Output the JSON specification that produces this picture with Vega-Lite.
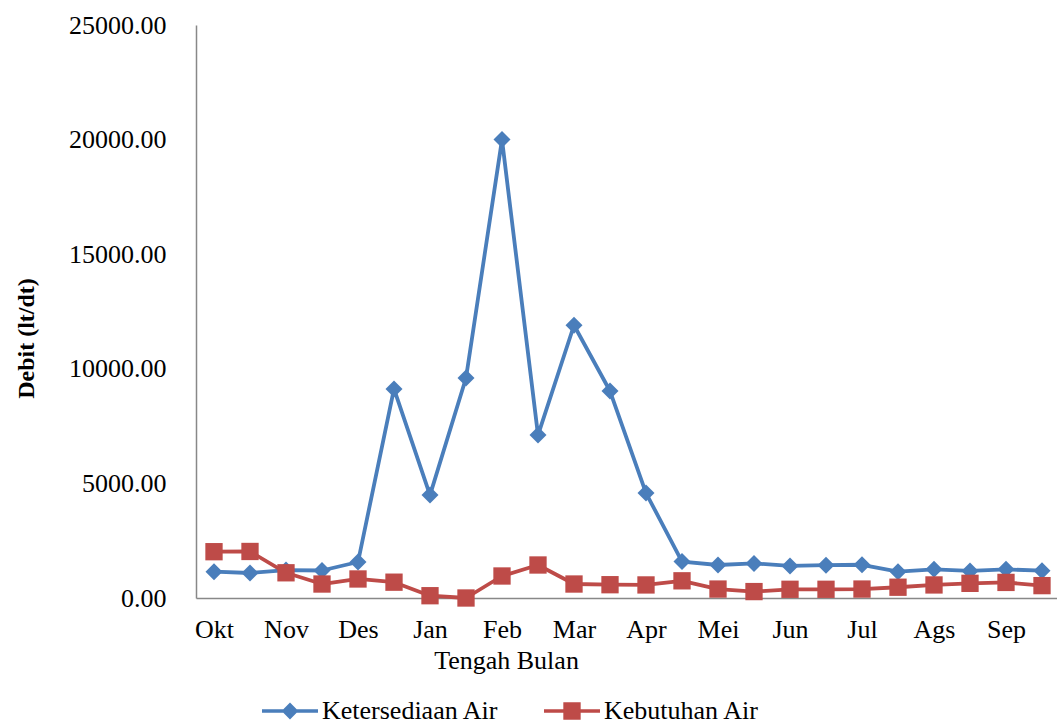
{
  "$schema": "https://vega.github.io/schema/vega-lite/v6.json",
  "autosize": "none",
  "width": 864,
  "height": 573,
  "padding": {"left": 196, "top": 25, "right": 0, "bottom": 126},
  "background": "white",
  "config": {
    "font": "Liberation Serif",
    "view": {"stroke": null}
  },
  "data": {
    "values": [
      {"periode": "Okt I", "seri": "Ketersediaan Air", "debit": 1150},
      {"periode": "Okt II", "seri": "Ketersediaan Air", "debit": 1090},
      {"periode": "Nov I", "seri": "Ketersediaan Air", "debit": 1220},
      {"periode": "Nov II", "seri": "Ketersediaan Air", "debit": 1200},
      {"periode": "Des I", "seri": "Ketersediaan Air", "debit": 1570},
      {"periode": "Des II", "seri": "Ketersediaan Air", "debit": 9120},
      {"periode": "Jan I", "seri": "Ketersediaan Air", "debit": 4490},
      {"periode": "Jan II", "seri": "Ketersediaan Air", "debit": 9600},
      {"periode": "Feb I", "seri": "Ketersediaan Air", "debit": 20000},
      {"periode": "Feb II", "seri": "Ketersediaan Air", "debit": 7110},
      {"periode": "Mar I", "seri": "Ketersediaan Air", "debit": 11900},
      {"periode": "Mar II", "seri": "Ketersediaan Air", "debit": 9030},
      {"periode": "Apr I", "seri": "Ketersediaan Air", "debit": 4580},
      {"periode": "Apr II", "seri": "Ketersediaan Air", "debit": 1590},
      {"periode": "Mei I", "seri": "Ketersediaan Air", "debit": 1440},
      {"periode": "Mei II", "seri": "Ketersediaan Air", "debit": 1510},
      {"periode": "Jun I", "seri": "Ketersediaan Air", "debit": 1400},
      {"periode": "Jun II", "seri": "Ketersediaan Air", "debit": 1430},
      {"periode": "Jul I", "seri": "Ketersediaan Air", "debit": 1450},
      {"periode": "Jul II", "seri": "Ketersediaan Air", "debit": 1150},
      {"periode": "Ags I", "seri": "Ketersediaan Air", "debit": 1250},
      {"periode": "Ags II", "seri": "Ketersediaan Air", "debit": 1180},
      {"periode": "Sep I", "seri": "Ketersediaan Air", "debit": 1250},
      {"periode": "Sep II", "seri": "Ketersediaan Air", "debit": 1190},
      {"periode": "Okt I", "seri": "Kebutuhan Air", "debit": 2020},
      {"periode": "Okt II", "seri": "Kebutuhan Air", "debit": 2030},
      {"periode": "Nov I", "seri": "Kebutuhan Air", "debit": 1100},
      {"periode": "Nov II", "seri": "Kebutuhan Air", "debit": 610},
      {"periode": "Des I", "seri": "Kebutuhan Air", "debit": 830},
      {"periode": "Des II", "seri": "Kebutuhan Air", "debit": 690},
      {"periode": "Jan I", "seri": "Kebutuhan Air", "debit": 100},
      {"periode": "Jan II", "seri": "Kebutuhan Air", "debit": 0},
      {"periode": "Feb I", "seri": "Kebutuhan Air", "debit": 960},
      {"periode": "Feb II", "seri": "Kebutuhan Air", "debit": 1440},
      {"periode": "Mar I", "seri": "Kebutuhan Air", "debit": 610},
      {"periode": "Mar II", "seri": "Kebutuhan Air", "debit": 580},
      {"periode": "Apr I", "seri": "Kebutuhan Air", "debit": 570},
      {"periode": "Apr II", "seri": "Kebutuhan Air", "debit": 750},
      {"periode": "Mei I", "seri": "Kebutuhan Air", "debit": 390},
      {"periode": "Mei II", "seri": "Kebutuhan Air", "debit": 280},
      {"periode": "Jun I", "seri": "Kebutuhan Air", "debit": 380},
      {"periode": "Jun II", "seri": "Kebutuhan Air", "debit": 380},
      {"periode": "Jul I", "seri": "Kebutuhan Air", "debit": 390},
      {"periode": "Jul II", "seri": "Kebutuhan Air", "debit": 470},
      {"periode": "Ags I", "seri": "Kebutuhan Air", "debit": 570},
      {"periode": "Ags II", "seri": "Kebutuhan Air", "debit": 640},
      {"periode": "Sep I", "seri": "Kebutuhan Air", "debit": 680},
      {"periode": "Sep II", "seri": "Kebutuhan Air", "debit": 540}
    ]
  },
  "encoding": {
    "x": {
      "field": "periode",
      "type": "ordinal",
      "sort": null,
      "scale": {"type": "point", "padding": 0.5},
      "axis": {
        "title": "Tengah Bulan",
        "titleFont": "Liberation Serif",
        "titleFontSize": 26,
        "titleFontWeight": "normal",
        "titleColor": "black",
        "titleX": 310,
        "titleY": 70,
        "titleBaseline": "alphabetic",
        "titleAnchor": "middle",
        "titleAlign": "center",
        "labelExpr": "indexof(datum.label, ' II') >= 0 ? '' : replace(datum.label, ' I', '')",
        "labelAngle": 0,
        "labelFont": "Liberation Serif",
        "labelFontSize": 26,
        "labelColor": "black",
        "labelPadding": 18,
        "labelOverlap": false,
        "labelFlush": false,
        "ticks": false,
        "grid": false,
        "domainColor": "#888888",
        "domainWidth": 1.5
      }
    },
    "y": {
      "field": "debit",
      "type": "quantitative",
      "scale": {"domain": [0, 25000], "nice": false},
      "axis": {
        "title": "Debit (lt/dt)",
        "titleFont": "Liberation Serif",
        "titleFontSize": 24,
        "titleFontWeight": "bold",
        "titleColor": "black",
        "titleAngle": -90,
        "titleX": -163,
        "titleY": 313,
        "titleBaseline": "alphabetic",
        "titleAlign": "center",
        "values": [0, 5000, 10000, 15000, 20000, 25000],
        "format": ".2f",
        "labelFont": "Liberation Serif",
        "labelFontSize": 26,
        "labelColor": "black",
        "labelPadding": 30,
        "ticks": false,
        "grid": false,
        "domainColor": "#888888",
        "domainWidth": 1.5
      }
    },
    "color": {
      "field": "seri",
      "type": "nominal",
      "sort": ["Ketersediaan Air", "Kebutuhan Air"],
      "scale": {"domain": ["Ketersediaan Air", "Kebutuhan Air"], "range": ["#4A7EBB", "#BE4B48"]},
      "legend": {
        "orient": "none",
        "legendX": 66,
        "legendY": 658,
        "direction": "horizontal",
        "title": null,
        "labelFont": "Liberation Serif",
        "labelFontSize": 26,
        "labelColor": "black",
        "labelLimit": 400,
        "labelOffset": 4,
        "columnPadding": 45,
        "symbolSize": 3136,
        "symbolStrokeWidth": 0,
        "encoding": {
          "symbols": {
            "shape": {"value": {"expr": "datum.value == 'Ketersediaan Air' ? 'M-1,-0.065H1V0.065H-1Z M0,-0.3L0.3,0L0,0.3L-0.3,0Z' : 'M-1,-0.065H1V0.065H-1Z M-0.31,-0.31H0.31V0.31H-0.31Z'"}},
            "fill": {"value": {"expr": "datum.value == 'Ketersediaan Air' ? '#4A7EBB' : '#BE4B48'"}},
            "fillOpacity": {"value": 1},
            "opacity": {"value": 1},
            "strokeWidth": {"value": 0}
          }
        }
      }
    }
  },
  "layer": [
    {
      "mark": {"type": "line", "strokeWidth": 3.8, "strokeJoin": "round"}
    },
    {
      "transform": [{"filter": "datum.seri == 'Ketersediaan Air'"}],
      "mark": {"type": "point", "filled": true, "opacity": 1, "size": 290, "shape": "diamond"}
    },
    {
      "transform": [{"filter": "datum.seri == 'Kebutuhan Air'"}],
      "mark": {"type": "point", "filled": true, "opacity": 1, "size": 300, "shape": "square"}
    }
  ]
}
